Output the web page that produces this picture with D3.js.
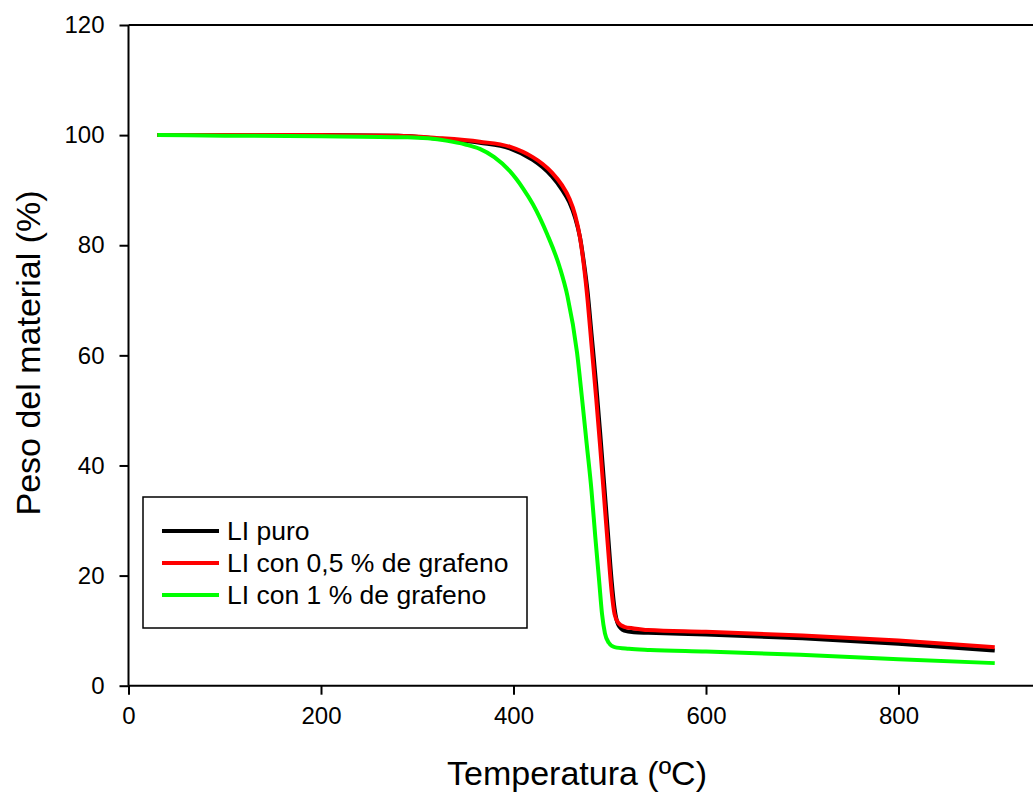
<!DOCTYPE html>
<html>
<head>
<meta charset="utf-8">
<script src="https://cdn.jsdelivr.net/npm/d3@7"></script>
<style>
  body { margin: 0; background: #fff; }
  text { font-family: "Liberation Sans", Arial, sans-serif; fill: #000; }
</style>
</head>
<body>
<script>
// temperatures (ºC) for the LI puro and 0,5 % curves
var tempA = [30, 100, 200, 280, 320, 365, 396, 420, 430, 440, 450, 458, 464, 469, 473, 477, 481, 486, 490, 494, 498, 502, 505, 509, 515, 525, 540, 600, 700, 800, 900];
var puro = [100, 100, 100, 99.9, 99.4, 98.6, 97.6, 95.5, 94.2, 92.5, 90.2, 87.8, 85.0, 81.5, 77, 71.5, 64, 54.5, 46, 37, 28, 19, 14, 11, 10.0, 9.7, 9.6, 9.3, 8.6, 7.6, 6.4];
var grafeno05 = [100, 100, 100, 99.9, 99.5, 98.8, 97.9, 96.0, 94.8, 93.2, 91.0, 88.5, 85.5, 81.5, 76.5, 70, 62, 52, 43.5, 34.5, 25.5, 17, 13, 11.4, 10.7, 10.4, 10.1, 9.8, 9.1, 8.2, 7.0];

// temperatures (ºC) for the 1 % curve
var tempB = [30, 100, 200, 290, 330, 350, 365, 380, 396, 410, 420, 435, 448, 456, 466, 471, 476, 481, 485, 489, 492, 495, 499, 505, 520, 542, 600, 698, 800, 900];
var grafeno1 = [100, 99.9, 99.8, 99.6, 99.0, 98.3, 97.5, 96.0, 93.5, 90.3, 87.5, 82, 76, 70.8, 60.5, 52.5, 44, 35.5, 27, 19, 13, 9.5, 7.8, 7.0, 6.7, 6.5, 6.2, 5.6, 4.8, 4.1];

var seriesNames = ["LI puro", "LI con 0,5 % de grafeno", "LI con 1 % de grafeno"];
var seriesColors = ["#000000", "#ff0000", "#00ff00"];
var xTicks = [0, 200, 400, 600, 800, 1000];
var xLabels = [0, 200, 400, 600, 800];
var yTicks = [0, 20, 40, 60, 80, 100, 120];

var w = 1033, h = 794;

var svg = d3.select("body").append("svg")
    .attr("width", w)
    .attr("height", h);

var x = d3.scaleLinear().domain([0, 1000]).range([128.5, 1091]);
var y = d3.scaleLinear().domain([0, 120]).range([685.7, 25]);

// top frame line
svg.append("line")
    .attr("x1", x(0)).attr("x2", x(1000))
    .attr("y1", y(120)).attr("y2", y(120))
    .attr("stroke", "#000").attr("stroke-width", 2);

// curves
var series = [
    { temp: tempA, vals: puro },
    { temp: tempA, vals: grafeno05 },
    { temp: tempB, vals: grafeno1 }
];

var line = d3.line()
    .x(function(d){ return x(d[0]); })
    .y(function(d){ return y(d[1]); })
    .curve(d3.curveMonotoneX);

svg.selectAll(".curve")
    .data(series)
    .enter()
    .append("path")
    .attr("class", "curve")
    .attr("fill", "none")
    .attr("stroke", function(d, i){ return seriesColors[i]; })
    .attr("stroke-width", 4)
    .attr("stroke-linejoin", "round")
    .attr("d", function(d){
        return line(d.temp.map(function(t, j){ return [t, d.vals[j]]; }));
    });

// axes
var xAxis = svg.append("g")
    .attr("transform", "translate(0," + y(0) + ")")
    .call(d3.axisBottom(x).tickValues(xTicks).tickSize(9).tickPadding(12)
        .tickFormat(function(d){ return xLabels.indexOf(d) >= 0 ? d3.format("d")(d) : ""; }));

var yAxis = svg.append("g")
    .attr("transform", "translate(" + x(0) + ",0)")
    .call(d3.axisLeft(y).tickValues(yTicks).tickSize(9).tickPadding(15).tickFormat(d3.format("d")));

svg.selectAll(".domain").attr("stroke-width", 2);
svg.selectAll(".tick line").attr("stroke-width", 2);
svg.selectAll(".tick text")
    .style("font-family", "'Liberation Sans', Arial, sans-serif")
    .style("font-size", "24px");
xAxis.select(".domain").attr("d", "M" + x(0) + ",0H" + x(1000));
yAxis.select(".domain").attr("d", "M0," + y(0) + "V" + y(120));

// axis titles
svg.append("text")
    .attr("x", 577)
    .attr("y", 785)
    .attr("text-anchor", "middle")
    .style("font-size", "34px")
    .text("Temperatura (ºC)");

svg.append("text")
    .attr("transform", "translate(40,353) rotate(-90)")
    .attr("text-anchor", "middle")
    .style("font-size", "34px")
    .text("Peso del material (%)");

// legend
var legend = svg.append("g");
legend.append("rect")
    .attr("x", 143).attr("y", 497)
    .attr("width", 384).attr("height", 131)
    .attr("fill", "#fff")
    .attr("stroke", "#000")
    .attr("stroke-width", 1.5);

var items = legend.selectAll(".item")
    .data(seriesNames)
    .enter()
    .append("g")
    .attr("class", "item")
    .attr("transform", function(d, i){ return "translate(0," + (531 + i * 32) + ")"; });

items.append("line")
    .attr("x1", 162).attr("x2", 219)
    .attr("y1", 0).attr("y2", 0)
    .attr("stroke", function(d, i){ return seriesColors[i]; })
    .attr("stroke-width", 4);

items.append("text")
    .attr("x", 227)
    .attr("y", 9)
    .style("font-size", "26.5px")
    .text(function(d){ return d; });
</script>
</body>
</html>
